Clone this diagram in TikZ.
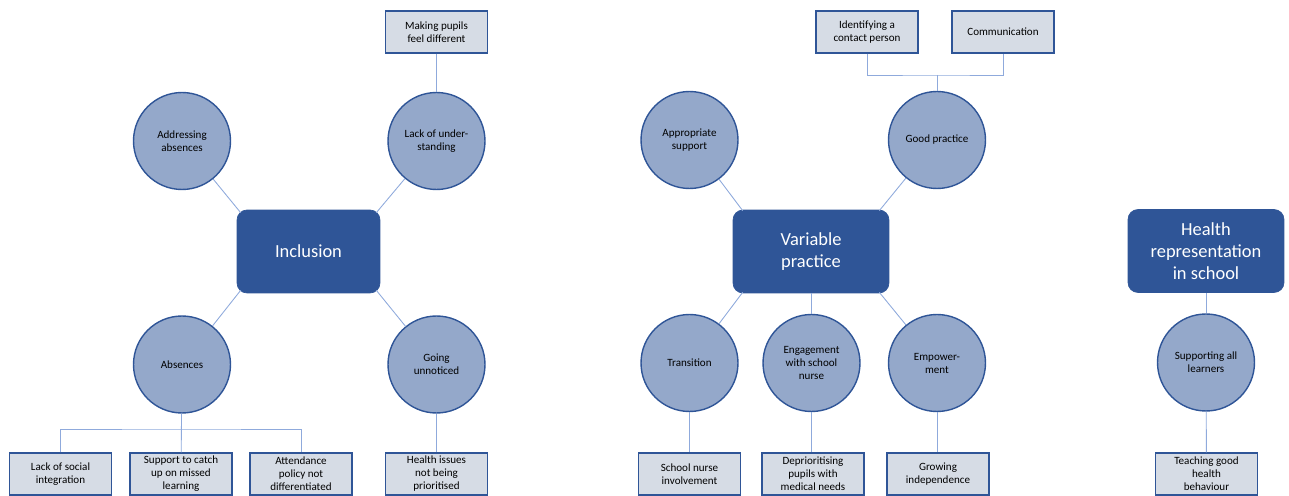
\documentclass[tikz,border=0pt]{standalone}
\usepackage{fontspec}
\setmainfont{Carlito}
\usepackage{tikz}
\usepackage{xcolor}
\definecolor{darkblue}{RGB}{47,85,151}
\definecolor{ballblue}{RGB}{148,168,202}
\definecolor{paleblue}{RGB}{214,220,229}
\definecolor{linkblue}{RGB}{143,170,220}

\begin{document}
\begin{tikzpicture}[x=0.02cm,y=-0.02cm,
  theme/.style={rectangle,rounded corners=0.2cm,fill=darkblue,draw=darkblue,text=white,align=center,minimum height=1.66cm,inner sep=1pt,font=\fontsize{10.5}{12.4}\selectfont},
  topic/.style={circle,fill=ballblue,draw=darkblue,line width=0.8pt,minimum size=1.94cm,inner sep=0pt,align=center,font=\fontsize{6.3}{7.4}\selectfont},
  leaf/.style={rectangle,fill=paleblue,draw=darkblue,line width=0.8pt,minimum width=2.04cm,minimum height=0.84cm,inner sep=1pt,align=center,font=\fontsize{6.3}{7.4}\selectfont},
  link/.style={linkblue,line width=0.5pt}]
\useasboundingbox (0,0) rectangle (1289,496);

\node[theme,minimum width=2.86cm] (incl) at (308.5,251.5) {Inclusion};
\node[topic] (addr) at (182,141) {Addressing\\absences};
\node[topic] (lack) at (436.5,141) {Lack of under-\\standing};
\node[topic] (abs) at (182,364.5) {Absences};
\node[topic] (unnot) at (436.5,364.5) {Going\\unnoticed};
\node[leaf] (diff) at (436.5,32) {Making pupils\\feel different};
\node[leaf] (social) at (60.5,474) {Lack of social\\integration};
\node[leaf] (catch) at (181,474) {Support to catch\\up on missed\\learning};
\node[leaf] (attend) at (301,474) {Attendance\\policy not\\differentiated};
\node[leaf] (health) at (436.5,474) {Health issues\\not being\\prioritised};
\coordinate (absb) at (182,429);
\draw[link] (addr) -- ([shift={(4,3)}]incl.north west);
\draw[link] (lack) -- ([shift={(-4,3)}]incl.north east);
\draw[link] (abs) -- ([shift={(4,-3)}]incl.south west);
\draw[link] (unnot) -- ([shift={(-4,-3)}]incl.south east);
\draw[link] (diff) -- (lack);
\draw[link] (social) |- (absb) -| (attend);
\draw[link] (abs) -- (catch);
\draw[link] (unnot) -- (health);

\node[theme,minimum width=3.12cm] (vari) at (811,251.5) {Variable\\practice};
\node[topic] (appr) at (689.5,140) {Appropriate\\support};
\node[topic] (good) at (937,140) {Good practice};
\node[topic] (trans) at (689.5,363) {Transition};
\node[topic] (nurse) at (811.5,363) {Engagement\\with school\\nurse};
\node[topic] (empow) at (937,363) {Empower-\\ment};
\node[leaf] (ident) at (867,32) {Identifying a\\contact person};
\node[leaf] (comm) at (1003,32) {Communication};
\node[leaf] (invol) at (689.5,474) {School nurse\\involvement};
\node[leaf] (depri) at (813,474) {Deprioritising\\pupils with\\medical needs};
\node[leaf] (indep) at (938,474) {Growing\\independence};
\coordinate (goodb) at (937,75);
\draw[link] (appr) -- ([shift={(10,1)}]vari.north west);
\draw[link] (good) -- ([shift={(-10,1)}]vari.north east);
\draw[link] (trans) -- ([shift={(10,-1)}]vari.south west);
\draw[link] (nurse) -- (nurse |- vari.south);
\draw[link] (empow) -- ([shift={(-10,-1)}]vari.south east);
\draw[link] (ident) |- (goodb) -| (comm);
\draw[link] (goodb) -- (good);
\draw[link] (trans) -- (invol);
\draw[link] (nurse) -- (nurse |- depri.north);
\draw[link] (empow) -- (empow |- indep.north);

\node[theme,minimum width=3.12cm] (rep) at (1206,251) {Health\\representation\\in school};
\node[topic] (learn) at (1206,362.5) {Supporting all\\learners};
\node[leaf] (teach) at (1206.5,474) {Teaching good\\health\\behaviour};
\draw[link] (rep) -- (learn);
\draw[link] (learn) -- (teach);
\end{tikzpicture}
\end{document}
